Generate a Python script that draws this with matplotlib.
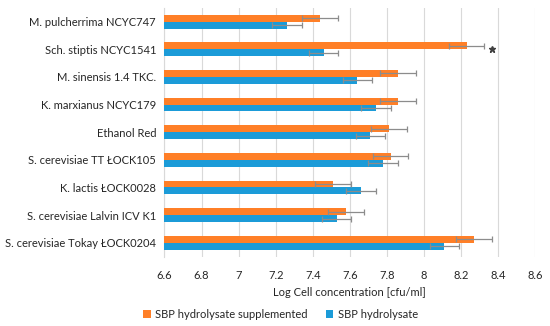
import matplotlib
matplotlib.use("Agg")
import matplotlib.pyplot as plt
import numpy as np

plt.rcParams['font.family'] = ['Lato', 'DejaVu Sans']

strains = ["M. pulcherrima NCYC747", "Sch. stiptis NCYC1541", "M. sinensis 1.4 TKC.",
           "K. marxianus NCYC179", "Ethanol Red", "S. cerevisiae TT ŁOCK105",
           "K. lactis ŁOCK0028", "S. cerevisiae Lalvin ICV K1", "S. cerevisiae Tokay ŁOCK0204"]
supplemented = [7.44, 8.23, 7.86, 7.86, 7.81, 7.82, 7.51, 7.58, 8.27]
supplemented_err = [0.097, 0.096, 0.096, 0.098, 0.096, 0.096, 0.097, 0.098, 0.098]
hydrolysate = [7.26, 7.46, 7.64, 7.74, 7.71, 7.78, 7.66, 7.53, 8.11]
hydrolysate_err = [0.08, 0.078, 0.078, 0.08, 0.078, 0.08, 0.079, 0.079, 0.077]
xticks = [6.6, 6.8, 7.0, 7.2, 7.4, 7.6, 7.8, 8.0, 8.2, 8.4, 8.6]
xtick_labels = ["6.6", "6.8", "7", "7.2", "7.4", "7.6", "7.8", "8", "8.2", "8.4", "8.6"]
star_rows = [1]

orange = '#FF7F27'
blue = '#1B9BD8'
errc = '#8C8C8C'

fig = plt.figure(figsize=(5.5, 3.26), dpi=100)
ax = fig.add_axes([0.299, 0.213, 0.674, 0.763])

n = len(strains)
y = np.arange(n)
h = 0.25
base = 6.6
ax.barh(y - h / 2, np.array(supplemented) - base, left=base, height=h, color=orange,
        xerr=supplemented_err, error_kw=dict(ecolor=errc, elinewidth=0.9, capsize=2, capthick=0.9),
        label='SBP hydrolysate supplemented', zorder=3)
ax.barh(y + h / 2, np.array(hydrolysate) - base, left=base, height=h, color=blue,
        xerr=hydrolysate_err, error_kw=dict(ecolor=errc, elinewidth=0.9, capsize=2, capthick=0.9),
        label='SBP hydrolysate', zorder=3)

for r in star_rows:
    ax.plot(supplemented[r] + supplemented_err[r] + 0.04, r, marker='*', color='#404040',
            markersize=5, zorder=4, clip_on=False)

ax.set_xlim(6.6, 8.6)
ax.set_ylim(n - 0.5, -0.5)
ax.set_yticks(y)
ax.set_yticklabels(strains, fontsize=8, color='#262626')
ax.set_xticks(xticks)
ax.set_xticklabels(xtick_labels, fontsize=8, color='#262626')
ax.tick_params(axis='both', length=0, pad=6)
ax.tick_params(axis='x', pad=10)
ax.grid(axis='x', color='#D9D9D9', linewidth=0.8, zorder=0)
ax.set_axisbelow(True)
for s in ['top', 'right', 'bottom']:
    ax.spines[s].set_visible(False)
ax.spines['left'].set_color('#D9D9D9')
ax.set_xlabel('Log Cell concentration [cfu/ml]', fontsize=8, color='#262626', labelpad=4)

fig.legend(loc='center', bbox_to_anchor=(0.51, 0.035), ncol=2, frameon=False, fontsize=8,
           handlelength=0.7, handleheight=0.7, handletextpad=0.4, columnspacing=1.6,
           labelcolor='#262626')

fig.savefig('out.png', dpi=100)
